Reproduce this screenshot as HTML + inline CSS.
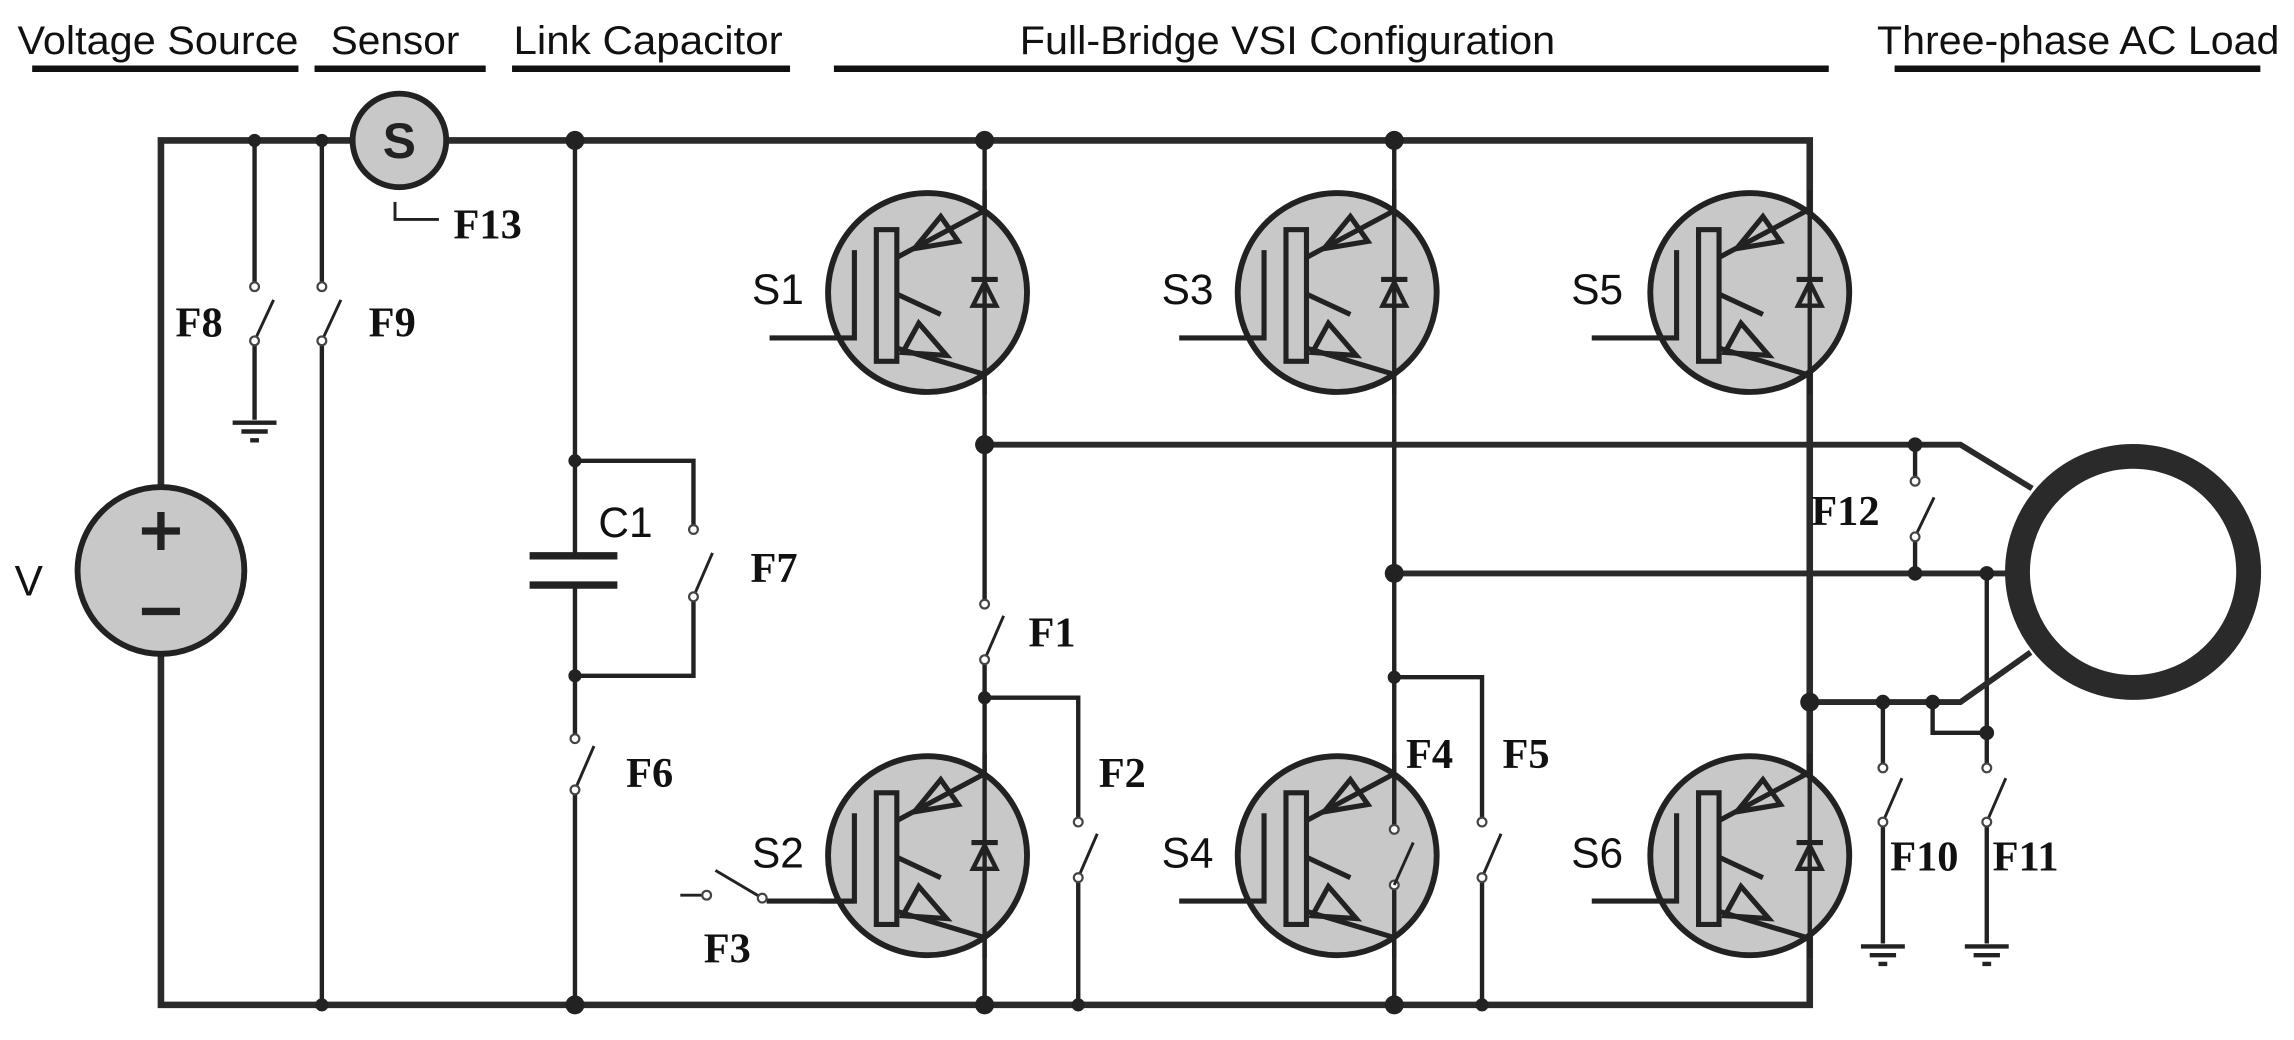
<!DOCTYPE html>
<html><head><meta charset="utf-8"><style>
html,body{margin:0;padding:0;background:#fff;width:2294px;height:1040px;overflow:hidden}
svg{display:block}
.h{font-family:"Liberation Sans",sans-serif;font-size:27px;fill:#111}
.f{font-family:"Liberation Serif",serif;font-weight:bold;font-size:29px;fill:#111}
.s{font-family:"Liberation Sans",sans-serif;font-size:29px;fill:#111}
</style></head><body>
<svg width="2294" height="1040" viewBox="0 0 1568 711" preserveAspectRatio="none" xmlns="http://www.w3.org/2000/svg">
<defs>
<g id="igbt">
<circle cx="0" cy="0" r="68" fill="#c8c8c8" stroke="#222" stroke-width="4"/>
<rect x="-35" y="-43" width="14" height="90" fill="none" stroke="#222" stroke-width="3.5"/>
<path d="M-50,-29 V31 H-108" fill="none" stroke="#222" stroke-width="3.5"/>
<path d="M-21,-24 L39,-56" stroke="#222" stroke-width="3.5"/>
<polygon points="-9,-30 9,-52 21,-35" fill="none" stroke="#222" stroke-width="3.5"/>
<path d="M-21,38 L39,56" stroke="#222" stroke-width="3.5"/>
<polygon points="-17,41 -6,21 13,43" fill="none" stroke="#222" stroke-width="3.5"/>
<path d="M-21,1 L9,15" stroke="#222" stroke-width="3.5"/>
</g>
<g id="diode">
<path d="M-9,-9 H9" stroke="#222" stroke-width="3.5"/>
<polygon points="-8,9 8,9 0,-7" fill="none" stroke="#222" stroke-width="3"/>
</g>
<g id="gnd">
<path d="M-15,0 H15 M-9,6 H9 M-3,12 H3" stroke="#222" stroke-width="3"/>
</g>
</defs>

<text class="h" x="12" y="37" textLength="192" lengthAdjust="spacingAndGlyphs">Voltage Source</text>
<text class="h" x="226" y="37" textLength="88" lengthAdjust="spacingAndGlyphs">Sensor</text>
<text class="h" x="351" y="37" textLength="184" lengthAdjust="spacingAndGlyphs">Link Capacitor</text>
<text class="h" x="697" y="37" textLength="366" lengthAdjust="spacingAndGlyphs">Full-Bridge VSI Configuration</text>
<text class="h" x="1283" y="37" textLength="275" lengthAdjust="spacingAndGlyphs">Three-phase AC Load</text>
<g stroke="#111" stroke-width="4.5">
<path d="M22,47 H204 M215,47 H332 M350,47 H540 M570,47 H1250 M1295,47 H1545"/>
</g>

<g fill="none" stroke="#2a2a2a" stroke-width="4.5">
<path d="M110,333 V96 H1237 V687 H110 V448"/>
</g>
<g fill="none" stroke="#222" stroke-width="3">
<path d="M174,96 V193 M174,236 V287"/>
<path d="M174,233 L187,205" stroke-width="2"/>
<path d="M220,96 V193 M220,236 V687"/>
<path d="M220,233 L233,205" stroke-width="2"/>
<path d="M393,96 V380 M393,400 V502 M393,543 V687"/>
<path d="M393,315 H474 V359 M474,411 V462 H393"/>
<path d="M474,408 L487,378" stroke-width="2"/>
<path d="M393,540 L406,510" stroke-width="2"/>
<path d="M673,96 V410 M673,454 V687"/>
<path d="M673,451 L686,421" stroke-width="2"/>
<path d="M673,477 H737 V559 M737,603 V687"/>
<path d="M737,600 L750,570" stroke-width="2"/>
<path d="M953,96 V564 M953,608 V687"/>
<path d="M953,605 L966,576" stroke-width="2"/>
<path d="M953,463 H1013 V559 M1013,603 V687"/>
<path d="M1013,600 L1026,570" stroke-width="2"/>
<path d="M1309,304 V326 M1309,370 V392"/>
<path d="M1309,367 L1322,340" stroke-width="2"/>
<path d="M1358,392 V522 M1358,565 V645"/>
<path d="M1358,562 L1371,532" stroke-width="2"/>
<path d="M1287,480 V522 M1287,565 V645"/>
<path d="M1287,562 L1300,532" stroke-width="2"/>
<path d="M1321,480 V501 H1358"/>
</g>
<g fill="none" stroke="#2a2a2a" stroke-width="4">
<path d="M673,304 H1340 L1389,334"/>
<path d="M953,392 H1372"/>
<path d="M1237,480 H1340 L1388,446"/>
</g>

<g fill="#fff" stroke="#444" stroke-width="1.5">
<circle cx="174" cy="196" r="3"/><circle cx="174" cy="233" r="3"/>
<circle cx="220" cy="196" r="3"/><circle cx="220" cy="233" r="3"/>
<circle cx="474" cy="362" r="3"/><circle cx="474" cy="408" r="3"/>
<circle cx="393" cy="505" r="3"/><circle cx="393" cy="540" r="3"/>
<circle cx="673" cy="413" r="3"/><circle cx="673" cy="451" r="3"/>
<circle cx="737" cy="562" r="3"/><circle cx="737" cy="600" r="3"/>
<circle cx="1013" cy="562" r="3"/><circle cx="1013" cy="600" r="3"/>
<circle cx="1309" cy="329" r="3"/><circle cx="1309" cy="367" r="3"/>
<circle cx="1287" cy="525" r="3"/><circle cx="1287" cy="562" r="3"/>
<circle cx="1358" cy="525" r="3"/><circle cx="1358" cy="562" r="3"/>
</g>

<use href="#gnd" x="174" y="289"/>
<use href="#gnd" x="1287" y="647"/>
<use href="#gnd" x="1358" y="647"/>

<path d="M362,380 H422 M362,400 H422" stroke="#222" stroke-width="5"/>

<circle cx="110" cy="390" r="57" fill="#c8c8c8" stroke="#222" stroke-width="4"/>
<path d="M97,363 H123 M110,350 V376 M97,418 H123" stroke="#222" stroke-width="5"/>
<text class="s" x="10" y="407">V</text>

<circle cx="273" cy="96" r="32" fill="#c8c8c8" stroke="#222" stroke-width="4"/>
<text x="273" y="108" text-anchor="middle" font-family="Liberation Sans,sans-serif" font-weight="bold" font-size="34" fill="#222">S</text>
<path d="M270,138 V150 H300" fill="none" stroke="#222" stroke-width="2"/>
<text class="f" x="310" y="163">F13</text>

<use href="#igbt" x="634" y="200"/>
<use href="#igbt" x="914" y="200"/>
<use href="#igbt" x="1196" y="200"/>
<use href="#igbt" x="634" y="585"/>
<use href="#igbt" x="914" y="585"/>
<use href="#igbt" x="1196" y="585"/>
<path d="M673,130 V270 M953,130 V270 M1237,130 V270 M673,515 V655 M1237,515 V655 M953,515 V564 M953,608 V655" stroke="#222" stroke-width="3"/>
<use href="#diode" x="673" y="200"/>
<use href="#diode" x="953" y="200"/>
<use href="#diode" x="1237" y="200"/>
<use href="#diode" x="673" y="585"/>
<use href="#diode" x="1237" y="585"/>
<g fill="#fff" stroke="#444" stroke-width="1.5">
<circle cx="953" cy="567" r="3"/><circle cx="953" cy="605" r="3"/>
</g>
<path d="M953,605 L966,576" stroke="#222" stroke-width="2"/>

<path d="M524,616 H560" stroke="#fff" stroke-width="6"/>
<path d="M524,616 H584" stroke="#222" stroke-width="3.5"/>
<path d="M521,614 L489,595 M465,612 H480" stroke="#222" stroke-width="2"/>
<g fill="#fff" stroke="#444" stroke-width="1.5"><circle cx="521" cy="614" r="3"/><circle cx="483" cy="612" r="3"/></g>

<circle cx="1458" cy="391" r="79" fill="#fff" stroke="#2a2a2a" stroke-width="17"/>

<g fill="#222">
<circle cx="174" cy="96" r="4.5"/><circle cx="220" cy="96" r="4.5"/><circle cx="220" cy="687" r="4.5"/>
<circle cx="393" cy="96" r="6.5"/><circle cx="393" cy="687" r="6.5"/><circle cx="393" cy="315" r="4.5"/><circle cx="393" cy="462" r="4.5"/>
<circle cx="673" cy="96" r="6.5"/><circle cx="673" cy="687" r="6.5"/><circle cx="673" cy="304" r="6.5"/><circle cx="673" cy="477" r="4.5"/><circle cx="737" cy="687" r="4.5"/>
<circle cx="953" cy="96" r="6.5"/><circle cx="953" cy="687" r="6.5"/><circle cx="953" cy="392" r="6.5"/><circle cx="953" cy="463" r="4.5"/><circle cx="1013" cy="687" r="4.5"/>
<circle cx="1237" cy="480" r="6.5"/>
<circle cx="1309" cy="304" r="5"/><circle cx="1309" cy="392" r="5"/><circle cx="1358" cy="392" r="5"/>
<circle cx="1287" cy="480" r="5"/><circle cx="1321" cy="480" r="5"/><circle cx="1358" cy="501" r="5"/>
</g>

<text class="s" x="514" y="208">S1</text>
<text class="s" x="794" y="208">S3</text>
<text class="s" x="1074" y="208">S5</text>
<text class="s" x="514" y="593">S2</text>
<text class="s" x="794" y="593">S4</text>
<text class="s" x="1074" y="593">S6</text>
<text class="f" x="120" y="230">F8</text>
<text class="f" x="252" y="230">F9</text>
<text class="s" x="409" y="367">C1</text>
<text class="f" x="513" y="398">F7</text>
<text class="f" x="428" y="538">F6</text>
<text class="f" x="703" y="442">F1</text>
<text class="f" x="751" y="538">F2</text>
<text class="f" x="481" y="658">F3</text>
<text class="f" x="961" y="525">F4</text>
<text class="f" x="1027" y="525">F5</text>
<text class="f" x="1238" y="359">F12</text>
<text class="f" x="1292" y="595">F10</text>
<text class="f" x="1362" y="595">F11</text>
</svg>
</body></html>
